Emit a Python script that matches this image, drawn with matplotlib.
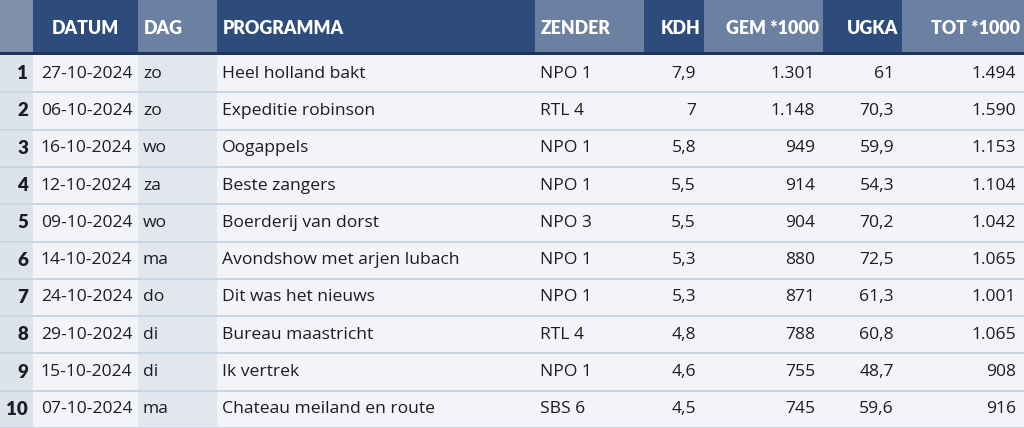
import matplotlib
matplotlib.use("Agg")
import matplotlib.pyplot as plt
from matplotlib.patches import Rectangle

# table data
columns = ["", "DATUM", "DAG", "PROGRAMMA", "ZENDER", "KDH", "GEM *1000", "UGKA", "TOT *1000"]
rank = ["1", "2", "3", "4", "5", "6", "7", "8", "9", "10"]
datum = ["27-10-2024", "06-10-2024", "16-10-2024", "12-10-2024", "09-10-2024",
         "14-10-2024", "24-10-2024", "29-10-2024", "15-10-2024", "07-10-2024"]
dag = ["zo", "zo", "wo", "za", "wo", "ma", "do", "di", "di", "ma"]
programma = ["Heel holland bakt", "Expeditie robinson", "Oogappels", "Beste zangers",
             "Boerderij van dorst", "Avondshow met arjen lubach", "Dit was het nieuws",
             "Bureau maastricht", "Ik vertrek", "Chateau meiland en route"]
zender = ["NPO 1", "RTL 4", "NPO 1", "NPO 1", "NPO 3", "NPO 1", "NPO 1", "RTL 4", "NPO 1", "SBS 6"]
kdh = ["7,9", "7", "5,8", "5,5", "5,5", "5,3", "5,3", "4,8", "4,6", "4,5"]
gem = ["1.301", "1.148", "949", "914", "904", "880", "871", "788", "755", "745"]
ugka = ["61", "70,3", "59,9", "54,3", "70,2", "72,5", "61,3", "60,8", "48,7", "59,6"]
tot = ["1.494", "1.590", "1.153", "1.104", "1.042", "1.065", "1.001", "1.065", "908", "916"]

body = [rank, datum, dag, programma, zender, kdh, gem, ugka, tot]

# layout in pixels
edges = [0, 33, 138, 217, 535, 644, 704, 823, 902, 1024]
align = ["right", "center", "left", "left", "left", "right", "right", "right", "right"]
head_h = 53
row_h = 37.3

dark_head = "#2e4c7b"
light_head = "#6c80a1"
head_cols = ["#8090ab", dark_head, light_head, dark_head, light_head,
             dark_head, light_head, dark_head, light_head]
body_cols = ["#dde3ea", "#f2f4f7", "#e2e7ee", "#f2f4f7", "#f2f4f7",
             "#f2f4f7", "#f2f4f7", "#f2f4f7", "#f2f4f7"]

fig = plt.figure(figsize=(10.24, 4.28), dpi=100)
ax = fig.add_axes([0, 0, 1, 1])
ax.set_xlim(0, 1024)
ax.set_ylim(428, 0)
ax.axis("off")

font = "Open Sans"
head_font = "Lato"

for c in range(len(columns)):
    x0, x1 = edges[c], edges[c + 1]
    ax.add_patch(Rectangle((x0, 0), x1 - x0, head_h, color=head_cols[c], lw=0))
    ax.add_patch(Rectangle((x0, head_h), x1 - x0, 428 - head_h, color=body_cols[c], lw=0))
    if align[c] == "left":
        hx = x0 + 6
    elif align[c] == "right":
        hx = x1 - 4
    else:
        hx = (x0 + x1) / 2
    ax.text(hx, 28, columns[c], color="white", fontsize=12.8, fontweight="heavy",
            family=head_font, ha=align[c], va="center")

    for r, val in enumerate(body[c]):
        yc = head_h + 2 + r * row_h + row_h / 2
        if align[c] == "left":
            tx = x0 + 5
        elif align[c] == "right":
            tx = x1 - (5 if c == 0 else 8)
        else:
            tx = (x0 + x1) / 2 + 1
        ax.text(tx, yc, val, color="#1c1c28",
                fontsize=13.5 if c == 0 else 12.6,
                fontweight="heavy" if c == 0 else "normal",
                family=head_font if c == 0 else font, ha=align[c], va="center")

# header bottom line and row separators
ax.add_patch(Rectangle((0, head_h - 1), 1024, 2.5, color="#1f335c", lw=0))
for r in range(1, 11):
    y = head_h + 2 + r * row_h
    ax.add_patch(Rectangle((0, y - 1), 1024, 2, color="#c8d5e3", lw=0))

fig.savefig("out.png", dpi=100)
